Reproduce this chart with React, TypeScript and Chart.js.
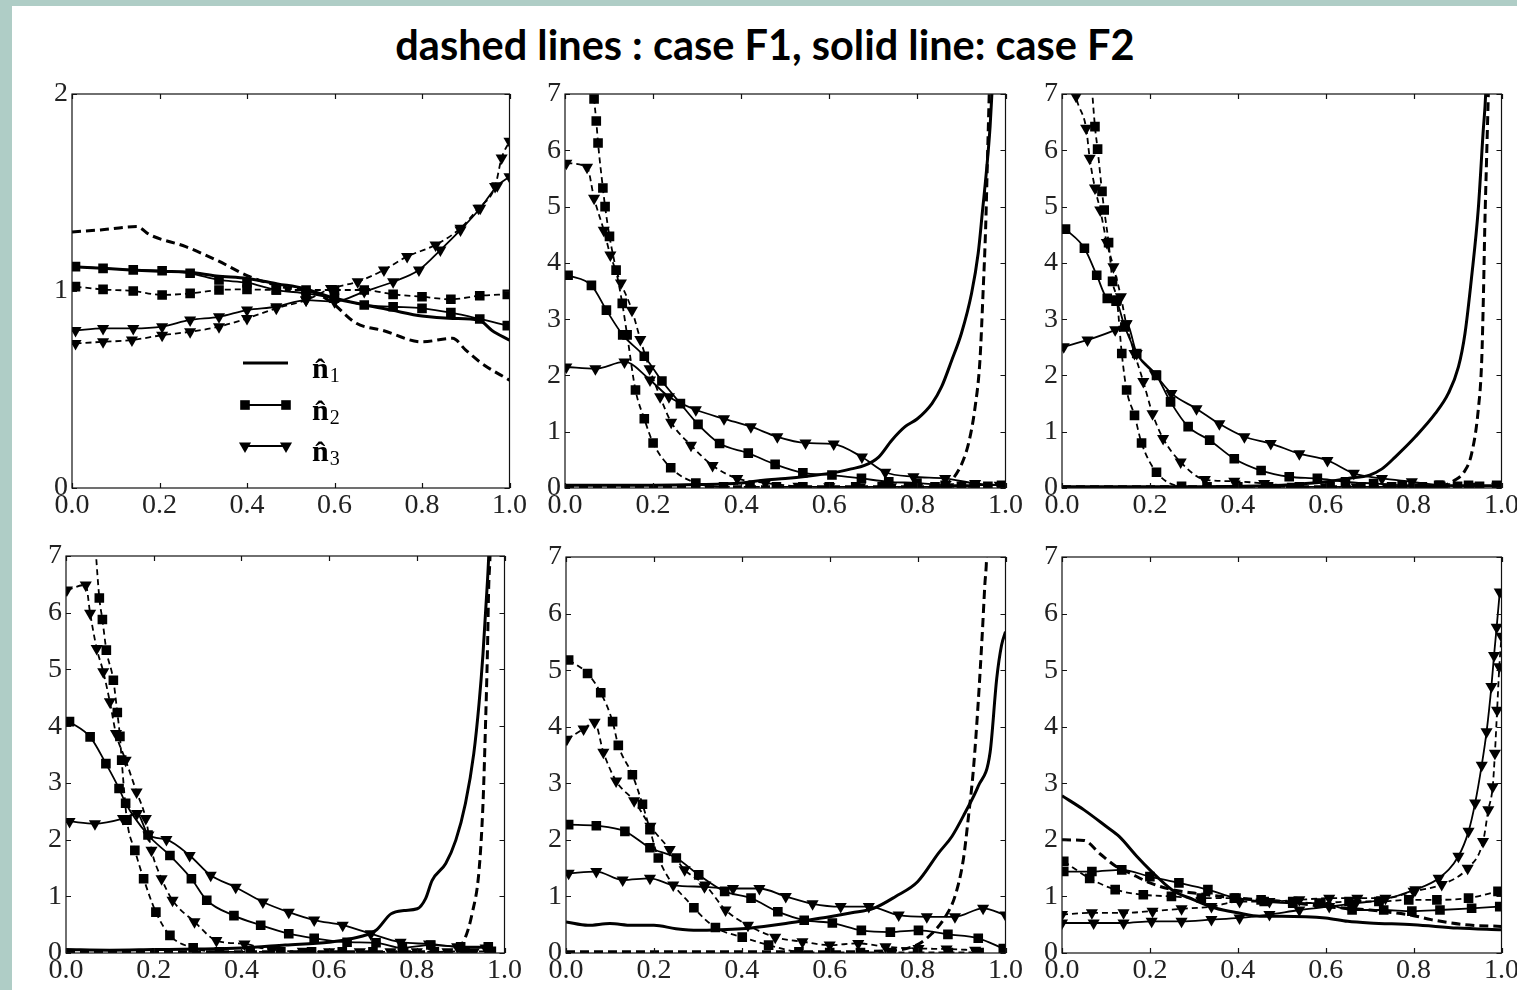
import React, { useEffect, useRef } from "react";
import { Chart, registerables } from "chart.js";

Chart.register(...registerables);

type Pt = [number, number];

// ---------- tick labels ----------
const xTickValues = [0, 0.2, 0.4, 0.6, 0.8, 1.0];
const yTicksTop1 = [0, 1, 2];
const yTicksOther = [0, 1, 2, 3, 4, 5, 6, 7];
const titleText = "dashed lines : case F1, solid line: case F2";
const legendNames = ["n\u0302", "n\u0302", "n\u0302"];
const legendSubs = ["1", "2", "3"];

// ---------- panel 1 (top-left) ----------
const p1F1n1: Pt[] = [[0, 1.30], [0.065, 1.31], [0.148, 1.327], [0.178, 1.285], [0.26, 1.225], [0.33, 1.157], [0.406, 1.073], [0.48, 1.022], [0.558, 0.988], [0.596, 0.937], [0.65, 0.836], [0.71, 0.80], [0.80, 0.742], [0.87, 0.76], [0.90, 0.70], [0.937, 0.632], [1.0, 0.547]];
const p1F2n1: Pt[] = [[0, 1.124], [0.07, 1.115], [0.133, 1.107], [0.2, 1.10], [0.27, 1.095], [0.33, 1.076], [0.4, 1.064], [0.47, 1.036], [0.53, 1.013], [0.6, 0.963], [0.67, 0.929], [0.73, 0.903], [0.8, 0.873], [0.87, 0.861], [0.93, 0.853], [0.96, 0.80], [1.0, 0.75]];
const p1F2n2: Pt[] = [[0.008, 1.124], [0.071, 1.115], [0.14, 1.107], [0.206, 1.103], [0.27, 1.09], [0.336, 1.056], [0.4, 1.042], [0.467, 1.005], [0.535, 0.988], [0.6, 0.963], [0.668, 0.929], [0.734, 0.92], [0.8, 0.912], [0.866, 0.89], [0.932, 0.858], [0.995, 0.824]];
const p1F1n2: Pt[] = [[0.008, 1.022], [0.071, 1.008], [0.14, 1.0], [0.206, 0.98], [0.27, 0.988], [0.336, 1.005], [0.4, 1.008], [0.467, 1.005], [0.535, 1.005], [0.6, 1.005], [0.668, 1.005], [0.734, 0.983], [0.8, 0.971], [0.866, 0.958], [0.932, 0.976], [0.995, 0.983]];
const p1F2n3: Pt[] = [[0.008, 0.80], [0.071, 0.81], [0.14, 0.81], [0.206, 0.819], [0.27, 0.853], [0.336, 0.869], [0.4, 0.903], [0.467, 0.92], [0.535, 0.954], [0.6, 0.946], [0.668, 0.997], [0.734, 1.047], [0.793, 1.107], [0.842, 1.208], [0.888, 1.31], [0.933, 1.42], [0.972, 1.534], [1.0, 1.58]];
const p1F1n3: Pt[] = [[0.008, 0.734], [0.071, 0.742], [0.137, 0.751], [0.206, 0.776], [0.27, 0.793], [0.336, 0.819], [0.4, 0.861], [0.467, 0.912], [0.535, 0.954], [0.592, 1.013], [0.653, 1.047], [0.713, 1.107], [0.766, 1.175], [0.831, 1.234], [0.888, 1.319], [0.929, 1.42], [0.967, 1.53], [0.982, 1.675], [1.0, 1.76]];

// ---------- panel 2 (top-middle) ----------
const p2F1n1: Pt[] = [[0, 0.02], [0.3, 0.02], [0.6, 0.02], [0.8, 0.02], [0.86, 0.06], [0.893, 0.31], [0.916, 0.79], [0.931, 1.44], [0.942, 2.27], [0.949, 3.46], [0.955, 4.64], [0.959, 5.83], [0.963, 7.0], [0.966, 8.0]];
const p2F2n1: Pt[] = [[0, 0.05], [0.1, 0.05], [0.2, 0.05], [0.3, 0.06], [0.4, 0.09], [0.45, 0.14], [0.5, 0.17], [0.55, 0.21], [0.6, 0.26], [0.65, 0.34], [0.68, 0.40], [0.712, 0.55], [0.742, 0.85], [0.772, 1.09], [0.80, 1.23], [0.833, 1.50], [0.855, 1.80], [0.878, 2.27], [0.90, 2.75], [0.923, 3.46], [0.938, 4.17], [0.948, 4.94], [0.957, 5.65], [0.965, 6.42], [0.97, 7.13]];
const p2F2n2: Pt[] = [[0.007, 3.78], [0.06, 3.6], [0.094, 3.16], [0.131, 2.72], [0.18, 2.34], [0.22, 1.90], [0.262, 1.50], [0.302, 1.13], [0.351, 0.79], [0.416, 0.62], [0.477, 0.42], [0.54, 0.27], [0.606, 0.23], [0.673, 0.17], [0.735, 0.11], [0.799, 0.09], [0.863, 0.05], [0.931, 0.05], [0.991, 0.05]];
const p2F1n2: Pt[] = [[0.055, 8.0], [0.066, 6.91], [0.071, 6.52], [0.075, 6.13], [0.086, 5.33], [0.091, 5.0], [0.101, 4.47], [0.116, 3.87], [0.13, 3.28], [0.141, 2.72], [0.16, 1.74], [0.18, 1.23], [0.2, 0.80], [0.24, 0.36], [0.297, 0.09], [0.36, 0.02], [0.42, 0.02], [0.48, 0.02], [0.54, 0.02], [0.6, 0.02], [0.66, 0.02], [0.72, 0.02], [0.78, 0.02], [0.84, 0.02], [0.9, 0.03], [0.96, 0.03]];
const p2F2n3: Pt[] = [[0.003, 2.15], [0.069, 2.12], [0.135, 2.24], [0.193, 1.92], [0.236, 1.62], [0.297, 1.39], [0.361, 1.23], [0.422, 1.09], [0.482, 0.91], [0.546, 0.80], [0.61, 0.78], [0.674, 0.55], [0.727, 0.28], [0.791, 0.20], [0.863, 0.17], [0.931, 0.08], [0.987, 0.05]];
const p2F1n3: Pt[] = [[0.003, 5.77], [0.05, 5.7], [0.066, 5.15], [0.088, 4.58], [0.103, 4.14], [0.127, 3.64], [0.152, 3.16], [0.171, 2.64], [0.192, 2.12], [0.216, 1.62], [0.241, 1.17], [0.286, 0.76], [0.335, 0.40], [0.391, 0.17], [0.455, 0.09], [0.53, 0.03], [0.6, 0.02], [0.67, 0.02], [0.74, 0.02], [0.8, 0.02], [0.87, 0.02], [0.93, 0.02]];

// ---------- panel 3 (top-right) ----------
const p3F2n1: Pt[] = [[0, 0.02], [0.2, 0.02], [0.4, 0.03], [0.5, 0.05], [0.6, 0.11], [0.65, 0.17], [0.7, 0.23], [0.728, 0.34], [0.758, 0.55], [0.804, 0.91], [0.849, 1.32], [0.879, 1.68], [0.902, 2.15], [0.917, 2.75], [0.932, 3.75], [0.947, 4.94], [0.958, 6.3], [0.964, 7.0], [0.968, 8.0]];
const p3F1n1: Pt[] = [[0, 0.02], [0.3, 0.02], [0.6, 0.02], [0.85, 0.02], [0.894, 0.14], [0.917, 0.31], [0.932, 0.61], [0.947, 1.38], [0.955, 2.27], [0.959, 3.46], [0.962, 4.64], [0.966, 5.83], [0.97, 7.0], [0.973, 8.0]];
const p3F2n2: Pt[] = [[0.008, 4.6], [0.051, 4.26], [0.079, 3.78], [0.103, 3.37], [0.123, 3.32], [0.143, 2.86], [0.17, 2.39], [0.215, 2.0], [0.247, 1.53], [0.287, 1.09], [0.336, 0.85], [0.392, 0.52], [0.453, 0.31], [0.517, 0.20], [0.581, 0.17], [0.645, 0.11], [0.709, 0.08], [0.774, 0.05], [0.857, 0.05], [0.925, 0.05], [0.989, 0.05]];
const p3F1n2: Pt[] = [[0.06, 8.0], [0.075, 6.42], [0.081, 6.02], [0.091, 5.27], [0.096, 4.94], [0.106, 4.36], [0.115, 3.67], [0.125, 3.34], [0.136, 2.39], [0.147, 1.74], [0.165, 1.29], [0.181, 0.80], [0.215, 0.28], [0.272, 0.03], [0.33, 0.02], [0.4, 0.02], [0.47, 0.02], [0.54, 0.02], [0.61, 0.02], [0.68, 0.02], [0.75, 0.02], [0.82, 0.02], [0.86, 0.05], [0.9, 0.03], [0.95, 0.03]];
const p3F2n3: Pt[] = [[0.004, 2.51], [0.058, 2.63], [0.121, 2.81], [0.147, 2.92], [0.17, 2.39], [0.211, 2.03], [0.249, 1.68], [0.306, 1.41], [0.358, 1.14], [0.415, 0.91], [0.475, 0.79], [0.54, 0.61], [0.604, 0.49], [0.664, 0.26], [0.728, 0.17], [0.796, 0.11], [0.86, 0.05], [0.93, 0.03], [0.99, 0.03]];
const p3F1n3: Pt[] = [[0.02, 7.6], [0.032, 6.96], [0.055, 6.39], [0.063, 5.86], [0.075, 5.33], [0.087, 4.94], [0.102, 4.36], [0.117, 3.93], [0.134, 3.40], [0.146, 2.92], [0.165, 2.39], [0.185, 1.89], [0.206, 1.32], [0.23, 0.88], [0.27, 0.46], [0.325, 0.15], [0.392, 0.12], [0.46, 0.08], [0.525, 0.03], [0.6, 0.02], [0.67, 0.02], [0.74, 0.02], [0.8, 0.02], [0.87, 0.02], [0.93, 0.02]];

// ---------- panel 4 (bottom-left) ----------
const p4F2n1: Pt[] = [[0, 0.06], [0.1, 0.05], [0.2, 0.06], [0.3, 0.07], [0.4, 0.09], [0.5, 0.14], [0.6, 0.19], [0.65, 0.25], [0.707, 0.40], [0.741, 0.69], [0.771, 0.75], [0.801, 0.78], [0.82, 0.96], [0.835, 1.28], [0.866, 1.58], [0.889, 1.99], [0.911, 2.64], [0.93, 3.52], [0.942, 4.4], [0.951, 5.28], [0.958, 6.16], [0.964, 7.0], [0.968, 8.0]];
const p4F1n1: Pt[] = [[0, 0.02], [0.3, 0.02], [0.6, 0.02], [0.86, 0.02], [0.896, 0.1], [0.911, 0.28], [0.926, 0.69], [0.942, 1.46], [0.951, 2.64], [0.957, 4.1], [0.961, 5.28], [0.964, 6.46], [0.967, 7.0], [0.97, 8.0]];
const p4F2n2: Pt[] = [[0.008, 4.08], [0.055, 3.81], [0.091, 3.34], [0.121, 2.9], [0.136, 2.64], [0.187, 2.08], [0.237, 1.72], [0.286, 1.31], [0.321, 0.93], [0.383, 0.66], [0.444, 0.49], [0.508, 0.34], [0.566, 0.26], [0.641, 0.19], [0.707, 0.18], [0.767, 0.09], [0.832, 0.14], [0.9, 0.11], [0.963, 0.11]];
const p4F1n2: Pt[] = [[0.06, 8.0], [0.076, 6.26], [0.083, 5.88], [0.092, 5.34], [0.108, 4.81], [0.117, 4.24], [0.123, 3.82], [0.127, 3.4], [0.139, 2.34], [0.157, 1.81], [0.177, 1.31], [0.205, 0.72], [0.237, 0.31], [0.29, 0.09], [0.35, 0.02], [0.42, 0.02], [0.49, 0.02], [0.56, 0.02], [0.63, 0.02], [0.7, 0.02], [0.77, 0.02], [0.84, 0.02], [0.91, 0.03], [0.97, 0.03]];
const p4F2n3: Pt[] = [[0.008, 2.32], [0.066, 2.28], [0.13, 2.37], [0.162, 2.46], [0.188, 2.08], [0.229, 2.0], [0.282, 1.72], [0.33, 1.37], [0.387, 1.16], [0.449, 0.90], [0.508, 0.72], [0.566, 0.58], [0.631, 0.49], [0.695, 0.34], [0.763, 0.19], [0.828, 0.16], [0.892, 0.11], [0.957, 0.09]];
const p4F1n3: Pt[] = [[0.002, 6.4], [0.045, 6.49], [0.055, 5.99], [0.07, 5.37], [0.085, 4.96], [0.1, 4.43], [0.114, 3.87], [0.136, 3.4], [0.161, 2.84], [0.182, 2.37], [0.195, 1.81], [0.218, 1.31], [0.243, 0.93], [0.293, 0.55], [0.343, 0.22], [0.407, 0.16], [0.47, 0.05], [0.54, 0.03], [0.6, 0.02], [0.67, 0.02], [0.74, 0.02], [0.8, 0.02], [0.87, 0.02], [0.93, 0.02]];

// ---------- panel 5 (bottom-middle) ----------
const p5F2n1: Pt[] = [[0, 0.55], [0.05, 0.49], [0.1, 0.52], [0.15, 0.49], [0.2, 0.49], [0.25, 0.43], [0.3, 0.40], [0.35, 0.41], [0.4, 0.43], [0.45, 0.47], [0.5, 0.52], [0.55, 0.58], [0.6, 0.64], [0.65, 0.71], [0.7, 0.79], [0.75, 1.0], [0.8, 1.26], [0.848, 1.77], [0.878, 2.06], [0.908, 2.48], [0.938, 2.95], [0.965, 3.55], [0.98, 4.85], [0.991, 5.44], [1.0, 5.68]];
const p5F1n1: Pt[] = [[0, 0.02], [0.3, 0.02], [0.6, 0.02], [0.75, 0.05], [0.8, 0.15], [0.832, 0.34], [0.863, 0.64], [0.885, 1.0], [0.904, 1.65], [0.915, 2.36], [0.927, 3.25], [0.938, 4.44], [0.947, 5.62], [0.953, 6.51], [0.957, 7.0], [0.96, 8.0]];
const p5F2n2: Pt[] = [[0.006, 2.27], [0.069, 2.25], [0.134, 2.15], [0.191, 1.86], [0.251, 1.68], [0.302, 1.38], [0.361, 1.09], [0.421, 0.97], [0.482, 0.73], [0.542, 0.58], [0.606, 0.53], [0.672, 0.40], [0.738, 0.37], [0.802, 0.40], [0.869, 0.33], [0.938, 0.26], [0.995, 0.08]];
const p5F1n2: Pt[] = [[0.006, 5.18], [0.049, 4.94], [0.079, 4.6], [0.106, 4.09], [0.119, 3.67], [0.151, 3.15], [0.174, 2.63], [0.191, 2.18], [0.21, 1.68], [0.291, 0.8], [0.34, 0.45], [0.401, 0.28], [0.461, 0.14], [0.53, 0.02], [0.6, 0.01], [0.67, 0.01], [0.74, 0.01], [0.8, 0.01], [0.87, 0.01], [0.94, 0.01]];
const p5F2n3: Pt[] = [[0.006, 1.41], [0.069, 1.44], [0.129, 1.29], [0.191, 1.32], [0.244, 1.2], [0.315, 1.17], [0.38, 1.14], [0.44, 1.14], [0.5, 1.0], [0.561, 0.87], [0.625, 0.82], [0.689, 0.82], [0.757, 0.67], [0.821, 0.64], [0.885, 0.64], [0.949, 0.79], [1.0, 0.67]];
const p5F1n3: Pt[] = [[0.002, 3.78], [0.04, 3.96], [0.065, 4.08], [0.085, 3.55], [0.114, 3.04], [0.155, 2.69], [0.192, 2.24], [0.236, 1.83], [0.27, 1.47], [0.317, 1.2], [0.363, 0.76], [0.414, 0.49], [0.476, 0.28], [0.538, 0.2], [0.6, 0.14], [0.665, 0.17], [0.727, 0.11], [0.802, 0.08], [0.866, 0.07], [0.931, 0.05]];

// ---------- panel 6 (bottom-right) ----------
const p6F2n1: Pt[] = [[0, 2.78], [0.05, 2.53], [0.1, 2.24], [0.13, 2.06], [0.17, 1.71], [0.2, 1.47], [0.25, 1.12], [0.3, 0.94], [0.35, 0.79], [0.4, 0.71], [0.45, 0.65], [0.5, 0.65], [0.6, 0.62], [0.65, 0.56], [0.7, 0.53], [0.8, 0.5], [0.9, 0.44], [1.0, 0.41]];
const p6F1n1: Pt[] = [[0, 2.0], [0.05, 1.99], [0.087, 1.75], [0.125, 1.52], [0.15, 1.43], [0.2, 1.24], [0.25, 1.12], [0.3, 1.06], [0.4, 0.97], [0.5, 0.91], [0.6, 0.82], [0.7, 0.76], [0.8, 0.66], [0.84, 0.59], [0.917, 0.5], [1.0, 0.47]];
const p6F2n2: Pt[] = [[0.004, 1.44], [0.068, 1.44], [0.136, 1.47], [0.2, 1.35], [0.266, 1.24], [0.332, 1.12], [0.396, 0.97], [0.46, 0.91], [0.525, 0.88], [0.589, 0.88], [0.66, 0.76], [0.732, 0.76], [0.796, 0.74], [0.86, 0.76], [0.932, 0.79], [0.996, 0.82]];
const p6F1n2: Pt[] = [[0.004, 1.62], [0.063, 1.32], [0.121, 1.12], [0.185, 1.03], [0.249, 1.0], [0.317, 0.97], [0.392, 0.97], [0.453, 0.94], [0.525, 0.91], [0.585, 0.88], [0.653, 0.91], [0.721, 0.91], [0.789, 0.94], [0.853, 0.94], [0.925, 0.97], [0.992, 1.09]];
const p6F2n3: Pt[] = [[0, 0.53], [0.072, 0.53], [0.14, 0.53], [0.204, 0.56], [0.272, 0.56], [0.34, 0.59], [0.404, 0.62], [0.472, 0.68], [0.54, 0.76], [0.608, 0.82], [0.668, 0.88], [0.728, 0.94], [0.804, 1.12], [0.857, 1.32], [0.902, 1.71], [0.925, 2.15], [0.94, 2.65], [0.955, 3.32], [0.966, 3.91], [0.977, 4.71], [0.983, 5.26], [0.989, 5.76], [0.996, 6.38]];
const p6F1n3: Pt[] = [[0, 0.68], [0.068, 0.71], [0.14, 0.71], [0.206, 0.74], [0.272, 0.78], [0.34, 0.82], [0.404, 0.91], [0.472, 0.91], [0.54, 0.94], [0.608, 0.97], [0.672, 0.97], [0.736, 0.97], [0.8, 1.09], [0.864, 1.21], [0.923, 1.5], [0.958, 1.97], [0.97, 2.53], [0.98, 2.94], [0.985, 3.53], [0.99, 4.29], [0.995, 5.06], [1.0, 5.6]];

// ---------- layout ----------
const PAD_L = 60;
const PAD_T = 20;
const PAD_R = 20;
const X_AXIS_H = 45;
const TEAL = "#afcdc6";
const LABEL_FONT = '"Liberation Serif", "DejaVu Serif", serif';

interface PanelSpec {
  box: [number, number, number, number];
  yMax: number;
  yTicks: number[];
  f1: [Pt[], Pt[], Pt[]];
  f2: [Pt[], Pt[], Pt[]];
  legend: boolean;
}

const panels: PanelSpec[] = [
  { box: [72, 94, 511, 488], yMax: 2, yTicks: yTicksTop1, f1: [p1F1n1, p1F1n2, p1F1n3], f2: [p1F2n1, p1F2n2, p1F2n3], legend: true },
  { box: [565, 94, 1007, 488], yMax: 7, yTicks: yTicksOther, f1: [p2F1n1, p2F1n2, p2F1n3], f2: [p2F2n1, p2F2n2, p2F2n3], legend: false },
  { box: [1062, 94, 1503, 488], yMax: 7, yTicks: yTicksOther, f1: [p3F1n1, p3F1n2, p3F1n3], f2: [p3F2n1, p3F2n2, p3F2n3], legend: false },
  { box: [66, 556, 506, 953], yMax: 7, yTicks: yTicksOther, f1: [p4F1n1, p4F1n2, p4F1n3], f2: [p4F2n1, p4F2n2, p4F2n3], legend: false },
  { box: [566, 557, 1007, 953], yMax: 7, yTicks: yTicksOther, f1: [p5F1n1, p5F1n2, p5F1n3], f2: [p5F2n1, p5F2n2, p5F2n3], legend: false },
  { box: [1062, 557, 1503, 953], yMax: 7, yTicks: yTicksOther, f1: [p6F1n1, p6F1n2, p6F1n3], f2: [p6F2n1, p6F2n2, p6F2n3], legend: false },
];

function makeDataset(data: Pt[], kind: number, dashed: boolean) {
  return {
    data: data.map(([x, y]) => ({ x, y })),
    borderColor: "#000",
    backgroundColor: "#000",
    borderWidth: kind === 1 ? 3 : 1.8,
    borderDash: dashed ? (kind === 1 ? [9, 5] : [6, 4]) : [],
    pointRadius: kind === 1 ? 0 : kind === 2 ? 6.8 : 7,
    pointHoverRadius: kind === 1 ? 0 : 7,
    pointStyle: kind === 2 ? "rect" : "triangle",
    pointRotation: kind === 3 ? 180 : 0,
    pointBorderWidth: 0,
    cubicInterpolationMode: "monotone",
    fill: false,
    clip: 0,
  };
}

function drawMarker(ctx: CanvasRenderingContext2D, kind: number, x: number, y: number) {
  ctx.beginPath();
  if (kind === 2) {
    ctx.rect(x - 4.8, y - 4.8, 9.6, 9.6);
  } else {
    const r = 7;
    ctx.moveTo(x, y + r);
    ctx.lineTo(x - r * Math.sin(Math.PI / 3), y - r / 2);
    ctx.lineTo(x + r * Math.sin(Math.PI / 3), y - r / 2);
    ctx.closePath();
  }
  ctx.fill();
}

const framePlugin = {
  id: "frameTicks",
  afterDatasetsDraw(chart: any) {
    const { ctx, chartArea: a, scales } = chart;
    const opts = chart.options.plugins.frameTicks || {};
    ctx.save();
    ctx.strokeStyle = "#111";
    ctx.lineWidth = 1.2;
    ctx.strokeRect(a.left, a.top, a.right - a.left, a.bottom - a.top);
    const L = 5;
    ctx.beginPath();
    scales.x.ticks.forEach((t: any) => {
      const px = Math.round(scales.x.getPixelForValue(t.value)) + 0.5;
      ctx.moveTo(px, a.bottom);
      ctx.lineTo(px, a.bottom - L);
      ctx.moveTo(px, a.top);
      ctx.lineTo(px, a.top + L);
    });
    scales.y.ticks.forEach((t: any) => {
      const py = Math.round(scales.y.getPixelForValue(t.value)) + 0.5;
      ctx.moveTo(a.left, py);
      ctx.lineTo(a.left + L, py);
      ctx.moveTo(a.right, py);
      ctx.lineTo(a.right - L, py);
    });
    ctx.stroke();

    if (opts.legend) {
      const x0 = a.left + 171;
      const x1 = a.left + 216;
      const rows = [269, 311, 352];
      ctx.fillStyle = "#000";
      ctx.strokeStyle = "#000";
      rows.forEach((ry, i) => {
        const y = a.top + ry;
        const kind = i + 1;
        ctx.setLineDash([]);
        ctx.lineWidth = kind === 1 ? 3 : 1.8;
        ctx.beginPath();
        ctx.moveTo(x0, y);
        ctx.lineTo(x1, y);
        ctx.stroke();
        if (kind > 1) {
          drawMarker(ctx, kind, x0 + 2, y);
          drawMarker(ctx, kind, x1 - 2, y);
        }
        const base = y + 15;
        ctx.textAlign = "left";
        ctx.textBaseline = "alphabetic";
        ctx.font = `bold 30px ${LABEL_FONT}`;
        ctx.fillText(legendNames[i], a.left + 240, base);
        const w = ctx.measureText("n").width;
        ctx.font = `20px ${LABEL_FONT}`;
        ctx.fillText(legendSubs[i], a.left + 240 + w + 1, base + 4);
      });
    }
    ctx.restore();
  },
};

function Panel({ spec }: { spec: PanelSpec }) {
  const ref = useRef<HTMLCanvasElement>(null);
  const [l, t, r, b] = spec.box;
  const w = r - l + PAD_L + PAD_R;
  const h = b - t + PAD_T + X_AXIS_H;

  useEffect(() => {
    if (!ref.current) return;
    const datasets: any[] = [];
    spec.f1.forEach((d, i) => datasets.push(makeDataset(d, i + 1, true)));
    spec.f2.forEach((d, i) => datasets.push(makeDataset(d, i + 1, false)));
    const tickFont = { family: LABEL_FONT, size: 28, lineHeight: 1 };
    const chart = new Chart(ref.current, {
      type: "line",
      data: { datasets },
      plugins: [framePlugin],
      options: {
        animation: false,
        responsive: false,
        events: [],
        layout: { padding: { left: 0, top: PAD_T, right: PAD_R, bottom: 0 }, autoPadding: false },
        plugins: {
          legend: { display: false },
          tooltip: { enabled: false },
          title: { display: false },
          frameTicks: { legend: spec.legend },
        } as any,
        scales: {
          x: {
            type: "linear",
            min: 0,
            max: 1,
            afterFit: (s: any) => { s.height = X_AXIS_H; },
            afterBuildTicks: (s: any) => { s.ticks = xTickValues.map((v) => ({ value: v })); },
            grid: { display: false, drawTicks: false },
            border: { display: false },
            ticks: {
              padding: 4,
              color: "#222",
              font: tickFont,
              maxRotation: 0,
              autoSkip: false,
              callback: (v: any) => Number(v).toFixed(1),
            },
          },
          y: {
            type: "linear",
            min: 0,
            max: spec.yMax,
            afterFit: (s: any) => { s.width = PAD_L; },
            afterBuildTicks: (s: any) => { s.ticks = spec.yTicks.map((v) => ({ value: v })); },
            grid: { display: false, drawTicks: false },
            border: { display: false },
            ticks: {
              padding: 4,
              color: "#222",
              font: tickFont,
              autoSkip: false,
              callback: (v: any) => String(v),
            },
          },
        },
      } as any,
    });
    return () => chart.destroy();
  }, []);

  return (
    <canvas
      ref={ref}
      width={w}
      height={h}
      style={{ position: "absolute", left: l - PAD_L, top: t - PAD_T, width: w, height: h }}
    />
  );
}

export default function App() {
  return (
    <div style={{ position: "absolute", left: 0, top: 0, width: 1517, height: 990, overflow: "hidden", background: TEAL }}>
      <div style={{ position: "absolute", left: 12, top: 6, width: 1505, height: 984, background: "#fff" }} />
      <div
        style={{
          position: "absolute",
          left: 265,
          top: 24,
          width: 1000,
          textAlign: "center",
          fontFamily: "Lato, 'Open Sans', sans-serif",
          fontWeight: 700,
          fontSize: 41.5,
          lineHeight: "41px",
          color: "#000",
          whiteSpace: "nowrap",
        }}
      >
        {titleText}
      </div>
      {panels.map((p, i) => (
        <Panel key={i} spec={p} />
      ))}
    </div>
  );
}
